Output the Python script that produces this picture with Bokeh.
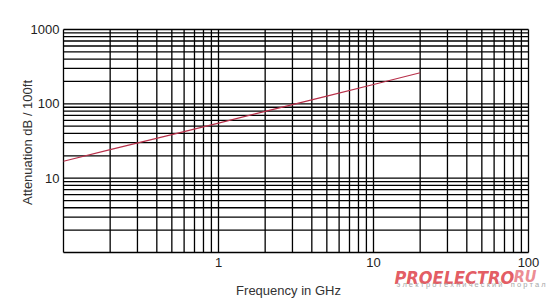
import math
from bokeh.plotting import figure
from bokeh.models import Range1d, Label, LabelSet, ColumnDataSource
from bokeh.core.properties import value
from bokeh.embed import file_html
from bokeh.resources import INLINE

# Data
freq_ghz = [0.1, 0.2, 0.5, 1, 2, 5, 10, 20]
atten_db = [16.9, 24.2, 38.5, 55, 79, 127, 182, 262]

# Axis ticks (log-log grid, lines at 1..9 of every decade)
x_grid = [m * d for d in (0.1, 1, 10) for m in range(1, 10)] + [100]
y_grid = [m * d for d in (1, 10, 100) for m in range(1, 10)] + [1000]
x_major = [1, 10, 100]
x_labels = ["1", "10", "100"]
y_major = [10, 100, 1000]
y_labels = ["10", "100", "1000"]

x_title = "Frequency in GHz"
y_title = "Attenuation dB / 100ft"
mark_main = "PROELECTRO"
mark_ru = "RU"
mark_sub = "электротехнический портал"

W, H = 558, 304
# plot area in the page: left 63, right 528, top 29, bottom 252
L, R, T, B = 63, 528, 29, 252
xd = (R - L) / (math.log10(x_grid[-1]) - math.log10(x_grid[0]))
yd = (B - T) / (math.log10(y_grid[-1]) - math.log10(y_grid[0]))
x0 = 10 ** (math.log10(x_grid[0]) - L / xd)
x1 = 10 ** (math.log10(x_grid[-1]) + (W - R) / xd)
y0 = 10 ** (math.log10(y_grid[0]) - (H - B) / yd)
y1 = 10 ** (math.log10(y_grid[-1]) + T / yd)

p = figure(width=W, height=H, x_axis_type="log", y_axis_type="log",
           x_range=Range1d(x0, x1), y_range=Range1d(y0, y1),
           output_backend="svg", toolbar_location=None,
           min_border=0, min_border_left=0, min_border_right=0,
           min_border_top=0, min_border_bottom=0)
p.xaxis.visible = False
p.yaxis.visible = False
p.xgrid.visible = False
p.ygrid.visible = False
p.outline_line_color = None
p.background_fill_color = "white"
p.border_fill_color = "white"

# grid
nx, ny = len(x_grid), len(y_grid)
p.segment(x0=x_grid, y0=[y_grid[0]] * nx, x1=x_grid, y1=[y_grid[-1]] * nx,
          line_color="black", line_width=1.3)
p.segment(x0=[x_grid[0]] * ny, y0=y_grid, x1=[x_grid[-1]] * ny, y1=y_grid,
          line_color="black", line_width=1.3)

# data
p.line(freq_ghz, atten_db, line_color="#b8304a", line_width=1.2)

# tick labels
xs = ColumnDataSource(dict(x=x_major, y=[y_grid[0]] * len(x_major), t=x_labels))
ys = ColumnDataSource(dict(x=[x_grid[0]] * len(y_major), y=y_major, t=y_labels))
p.add_layout(LabelSet(x="x", y="y", text="t", source=xs, y_offset=-5,
                      text_align="center", text_baseline="top",
                      text_font=value("Liberation Sans"), text_font_size="13px",
                      text_color="#222222"))
p.add_layout(LabelSet(x="x", y="y", text="t", source=ys, x_offset=-4,
                      text_align="right", text_baseline="middle",
                      text_font=value("Liberation Sans"), text_font_size="13px",
                      text_color="#222222"))

# axis titles
p.add_layout(Label(x=288, y=H - 290, x_units="screen", y_units="screen", text=x_title,
                   text_align="center", text_baseline="middle",
                   text_font="Liberation Sans", text_font_size="13px",
                   text_color="#333333"))
p.add_layout(Label(x=27, y=H - 142, x_units="screen", y_units="screen", text=y_title,
                   angle=math.pi / 2, text_align="center", text_baseline="middle",
                   text_font="Liberation Sans", text_font_size="13px",
                   text_color="#333333"))

# watermark
wm_font = "'DejaVu Sans Condensed', 'Liberation Sans', sans-serif"
p.add_layout(Label(x=394, y=H - 277, x_units="screen", y_units="screen", text=mark_main,
                   text_align="left", text_baseline="alphabetic",
                   text_font=wm_font, text_font_style="bold italic",
                   text_font_size="18px", text_color="#e0474f", text_alpha=0.9))
p.add_layout(Label(x=536, y=H - 276, x_units="screen", y_units="screen", text=mark_ru,
                   text_align="right", text_baseline="alphabetic",
                   text_font=wm_font, text_font_style="bold italic",
                   text_font_size="16px", text_color="#ea7d85", text_alpha=0.9))
nb = "\u00a0"
sub_words = mark_sub.split(" ")
sub_text = (nb * 4).join(nb.join(w) for w in sub_words)
p.add_layout(Label(x=396, y=H - 284, x_units="screen", y_units="screen",
                   text=sub_text, text_align="left", text_baseline="middle",
                   text_font="Liberation Sans", text_font_size="7.5px",
                   text_color="#a8a8a8"))

open("out.html", "w").write(file_html(p, INLINE))
